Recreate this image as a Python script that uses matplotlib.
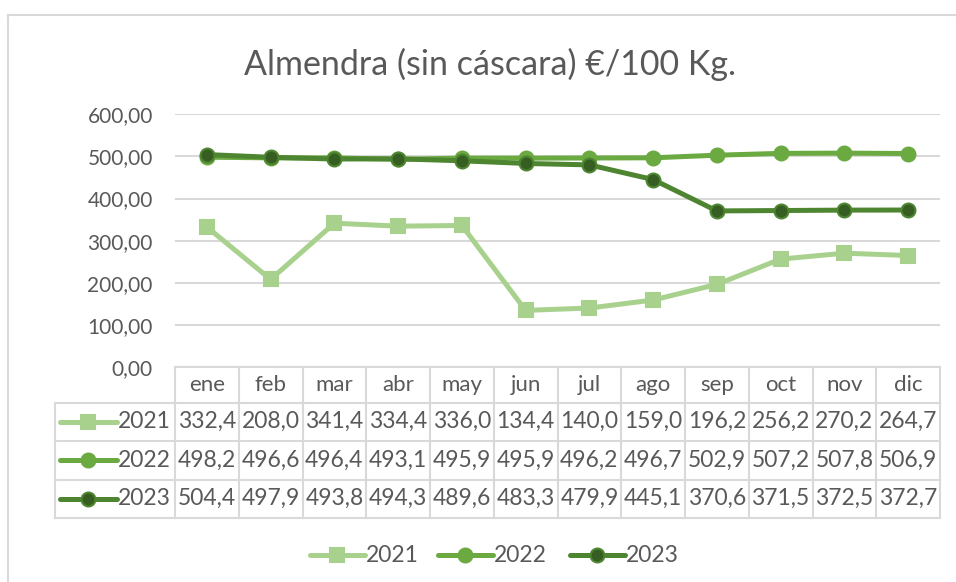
import matplotlib
matplotlib.use("Agg")
import matplotlib.pyplot as plt
from matplotlib.lines import Line2D
from matplotlib.transforms import blended_transform_factory

plt.rcParams['font.family'] = ['Lato', 'DejaVu Sans']

months = ['ene', 'feb', 'mar', 'abr', 'may', 'jun', 'jul', 'ago', 'sep', 'oct', 'nov', 'dic']
years = ['2021', '2022', '2023']
v2021 = [332.4, 208.0, 341.4, 334.4, 336.0, 134.4, 140.0, 159.0, 196.2, 256.2, 270.2, 264.7]
v2022 = [498.2, 496.6, 496.4, 493.1, 495.9, 495.9, 496.2, 496.7, 502.9, 507.2, 507.8, 506.9]
v2023 = [504.4, 497.9, 493.8, 494.3, 489.6, 483.3, 479.9, 445.1, 370.6, 371.5, 372.5, 372.7]
yticks = [0, 100, 200, 300, 400, 500, 600]

W, H = 956, 582
TXT = '#595959'
GRID = '#D9D9D9'

# series styles: line colour, marker, marker face, marker edge
styles = {
    '2021': dict(color='#A9D18E', marker='s', mfc='#A9D18E', mec='#A9D18E', ms=10),
    '2022': dict(color='#6AAA40', marker='o', mfc='#6AAA40', mec='#6AAA40', ms=10),
    '2023': dict(color='#4E8530', marker='o', mfc='#375E22', mec='#4E8530', ms=10),
}
series = {'2021': v2021, '2022': v2022, '2023': v2023}


def fx(px):
    return px / W


def fy(py):
    return 1 - py / H


fig = plt.figure(figsize=(W / 100, H / 100), dpi=100)

# plot area
x_left, x_right = 175, 940
y_top, y_zero = 114.3, 367
ax = fig.add_axes([fx(x_left), fy(y_zero), fx(x_right) - fx(x_left), fy(y_top) - fy(y_zero)])
x = list(range(len(months)))
for yr in years:
    st = styles[yr]
    ax.plot(x, series[yr], color=st['color'], lw=3.6, marker=st['marker'],
            markersize=st['ms'], markerfacecolor=st['mfc'], markeredgecolor=st['mec'],
            markeredgewidth=1.5, solid_capstyle='round', zorder=3)

ax.set_xlim(-0.5, len(months) - 0.5)
ax.set_ylim(0, 600)
ax.set_yticks(yticks)
ax.set_yticklabels([f"{t:.2f}".replace('.', ',') for t in yticks])
ax.set_xticks([])
ax.tick_params(axis='y', length=0, pad=16, labelsize=15, labelcolor=TXT)
ax.grid(axis='y', color=GRID, lw=1.5)
ax.set_axisbelow(True)
for s in ax.spines.values():
    s.set_visible(False)

# title
fig.text(fx(490), fy(64), 'Almendra (sin cáscara) €/100 Kg.', ha='center', va='center',
         fontsize=24.5, color=TXT)

# outer chart border (left and top)
fig.add_artist(Line2D([fx(8), fx(8)], [fy(15), 0], color=GRID, lw=1.5))
fig.add_artist(Line2D([fx(8), 1], [fy(15), fy(15)], color=GRID, lw=1.5))

# data table under the axis
tr = blended_transform_factory(ax.transData, fig.transFigure)
rows_y = [367, 402.5, 441, 479.5, 518]
tab_left = 55

# horizontal lines
fig.add_artist(Line2D([fx(x_left), fx(x_right)], [fy(rows_y[0])] * 2, color=GRID, lw=1.5))
for ry in rows_y[1:]:
    fig.add_artist(Line2D([fx(tab_left), fx(x_right)], [fy(ry)] * 2, color=GRID, lw=1.5))
# vertical lines
fig.add_artist(Line2D([fx(tab_left)] * 2, [fy(rows_y[1]), fy(rows_y[-1])], color=GRID, lw=1.5))
for i in range(len(months) + 1):
    ax.add_artist(Line2D([i - 0.5] * 2, [fy(rows_y[0]), fy(rows_y[-1])], color=GRID, lw=1.5,
                         transform=tr, clip_on=False))

# header
for i, m in enumerate(months):
    ax.text(i, fy((rows_y[0] + rows_y[1]) / 2), m, transform=tr, ha='center', va='center',
            fontsize=16, color=TXT)

# rows
for r, yr in enumerate(years):
    cy = (rows_y[r + 1] + rows_y[r + 2]) / 2
    st = styles[yr]
    fig.add_artist(Line2D([fx(60), fx(88), fx(117)], [fy(cy)] * 3, color=st['color'], lw=3.6,
                          marker=st['marker'], markevery=[1], markersize=st['ms'],
                          markerfacecolor=st['mfc'], markeredgecolor=st['mec'],
                          markeredgewidth=1.5, solid_capstyle='round'))
    fig.text(fx(118), fy(cy), yr, ha='left', va='center', fontsize=16.5, color=TXT)
    for i, v in enumerate(series[yr]):
        ax.text(i, fy(cy), f"{v:.1f}".replace('.', ','), transform=tr, ha='center',
                va='center', fontsize=16.5, color=TXT)

# legend at the bottom
leg_pos = [310, 438, 570]
for lx, yr in zip(leg_pos, years):
    st = styles[yr]
    ly = 555
    fig.add_artist(Line2D([fx(lx), fx(lx + 27), fx(lx + 55)], [fy(ly)] * 3, color=st['color'],
                          lw=3.6, marker=st['marker'], markevery=[1], markersize=st['ms'],
                          markerfacecolor=st['mfc'], markeredgecolor=st['mec'],
                          markeredgewidth=1.5, solid_capstyle='round'))
    fig.text(fx(lx + 56), fy(ly), yr, ha='left', va='center', fontsize=16.5, color=TXT)

fig.savefig('out.png', dpi=100)
